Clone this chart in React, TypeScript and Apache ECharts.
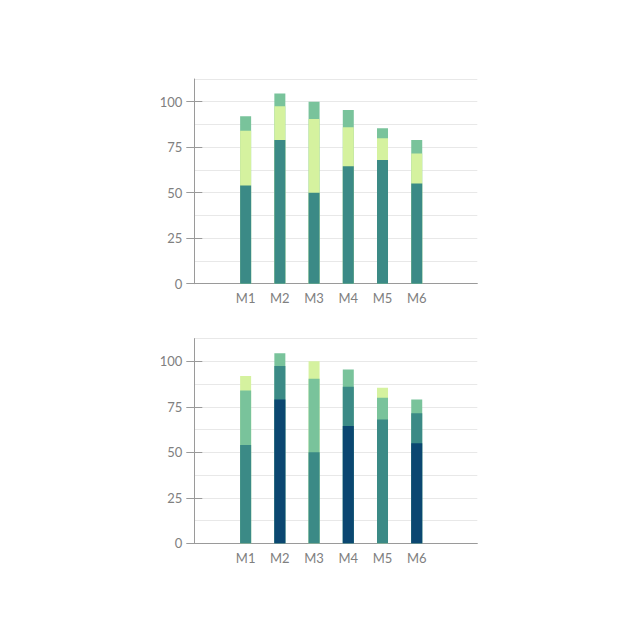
import React, { useEffect, useRef } from "react";
import * as echarts from "echarts";

const categories = ["M1", "M2", "M3", "M4", "M5", "M6"];
const baseValues = [54, 79, 50, 64.5, 68, 55];
const midValues = [30, 18.5, 40.5, 21.5, 12, 16.5];
const topValues = [8, 7, 9.5, 9.5, 5.5, 7.5];
const yTickLabels = [0, 25, 50, 75, 100];

const TEAL = "#3b8a86";
const NAVY = "#0b4771";
const GREEN = "#79c39b";
const PALE = "#d5f29f";

// bottom chart: alternating colour schemes per bar
const bottomBaseColors = [TEAL, NAVY, TEAL, NAVY, TEAL, NAVY];
const bottomMidColors = [GREEN, TEAL, GREEN, TEAL, GREEN, TEAL];
const bottomTopColors = [PALE, GREEN, PALE, GREEN, PALE, GREEN];

const X_OFFSET = 1.5;
const X_MAX = 8.27;
const Y_MAX = 112.5;

export default function App() {
  const ref = useRef<HTMLDivElement>(null);
  useEffect(() => {
    if (!ref.current) return;
    const chart = echarts.init(ref.current, undefined, { renderer: "svg" });
    const xPos = categories.map((_, i) => i + X_OFFSET);
    const axisGrey = "#9a9a9a";
    const labelGrey = "#808080";
    const font = "Lato";
    const fontSize = 13;

    const grids = [
      { left: 194.3, top: 79, width: 283, height: 204.7, outerBoundsMode: "none" },
      { left: 194.3, top: 338.6, width: 283, height: 204.7, outerBoundsMode: "none" },
    ];

    const xAxes = grids.map((_, gi) => ({
      type: "value",
      gridIndex: gi,
      min: 0,
      max: X_MAX,
      axisLine: { show: true, lineStyle: { color: axisGrey, width: 1 } },
      axisTick: { show: false },
      splitLine: { show: false },
      axisLabel: {
        customValues: xPos,
        formatter: (v: number) => categories[Math.round(v - X_OFFSET)] ?? "",
        color: labelGrey,
        fontFamily: font,
        fontSize,
        margin: 8,
      },
    }));

    const yAxes: any[] = [];
    grids.forEach((_, gi) => {
      // main axis: line, labels, split lines every 12.5
      yAxes.push({
        type: "value",
        gridIndex: gi,
        position: "left",
        min: 0,
        max: Y_MAX,
        interval: 12.5,
        axisLine: { show: true, lineStyle: { color: axisGrey, width: 1 } },
        axisTick: { show: false },
        splitLine: { show: true, lineStyle: { color: "#e8e8e8", width: 1 } },
        axisLabel: {
          formatter: (v: number) => (yTickLabels.includes(v) ? String(v) : ""),
          color: labelGrey,
          fontFamily: font,
          fontSize,
          margin: 12,
        },
      });
      // outward ticks and inward ticks at labelled values
      [false, true].forEach((inside) => {
        yAxes.push({
          type: "value",
          gridIndex: gi,
          position: "left",
          min: 0,
          max: Y_MAX,
          interval: 12.5,
          axisLine: { show: false },
          axisTick: {
            show: true,
            inside,
            length: 8,
            customValues: yTickLabels,
            lineStyle: { color: axisGrey },
          },
          splitLine: { show: false },
          axisLabel: { show: false },
        });
      });
    });

    // cumulative tops; drawn from tallest to shortest so segments overlap as a stack
    const cumMid = baseValues.map((v, i) => v + midValues[i]);
    const cumTop = cumMid.map((v, i) => v + topValues[i]);

    const mk = (vals: number[], colors: string[] | string) =>
      vals.map((v, i) => ({
        value: [xPos[i], v],
        itemStyle: { color: Array.isArray(colors) ? colors[i] : colors },
      }));

    const series: any[] = [];
    const sets = [
      [TEAL, PALE, GREEN],
      [bottomBaseColors, bottomMidColors, bottomTopColors],
    ];
    [0, 1].forEach((gi) => {
      const [c1, c2, c3] = sets[gi] as any[];
      [
        [cumTop, c3],
        [cumMid, c2],
        [baseValues, c1],
      ].forEach(([vals, col], si) => {
        series.push({
          type: "bar",
          name: "s" + gi + "_" + si,
          xAxisIndex: gi,
          yAxisIndex: gi * 3,
          barWidth: 11,
          barGap: "-100%",
          data: mk(vals as number[], col as any),
        });
      });
    });

    chart.setOption({
      animation: false,
      backgroundColor: "#ffffff",
      grid: grids,
      xAxis: xAxes,
      yAxis: yAxes,
      series,
    });
    return () => chart.dispose();
  }, []);
  return (
    <div
      ref={ref}
      style={{ position: "fixed", left: 0, top: 0, width: 640, height: 640 }}
    />
  );
}
